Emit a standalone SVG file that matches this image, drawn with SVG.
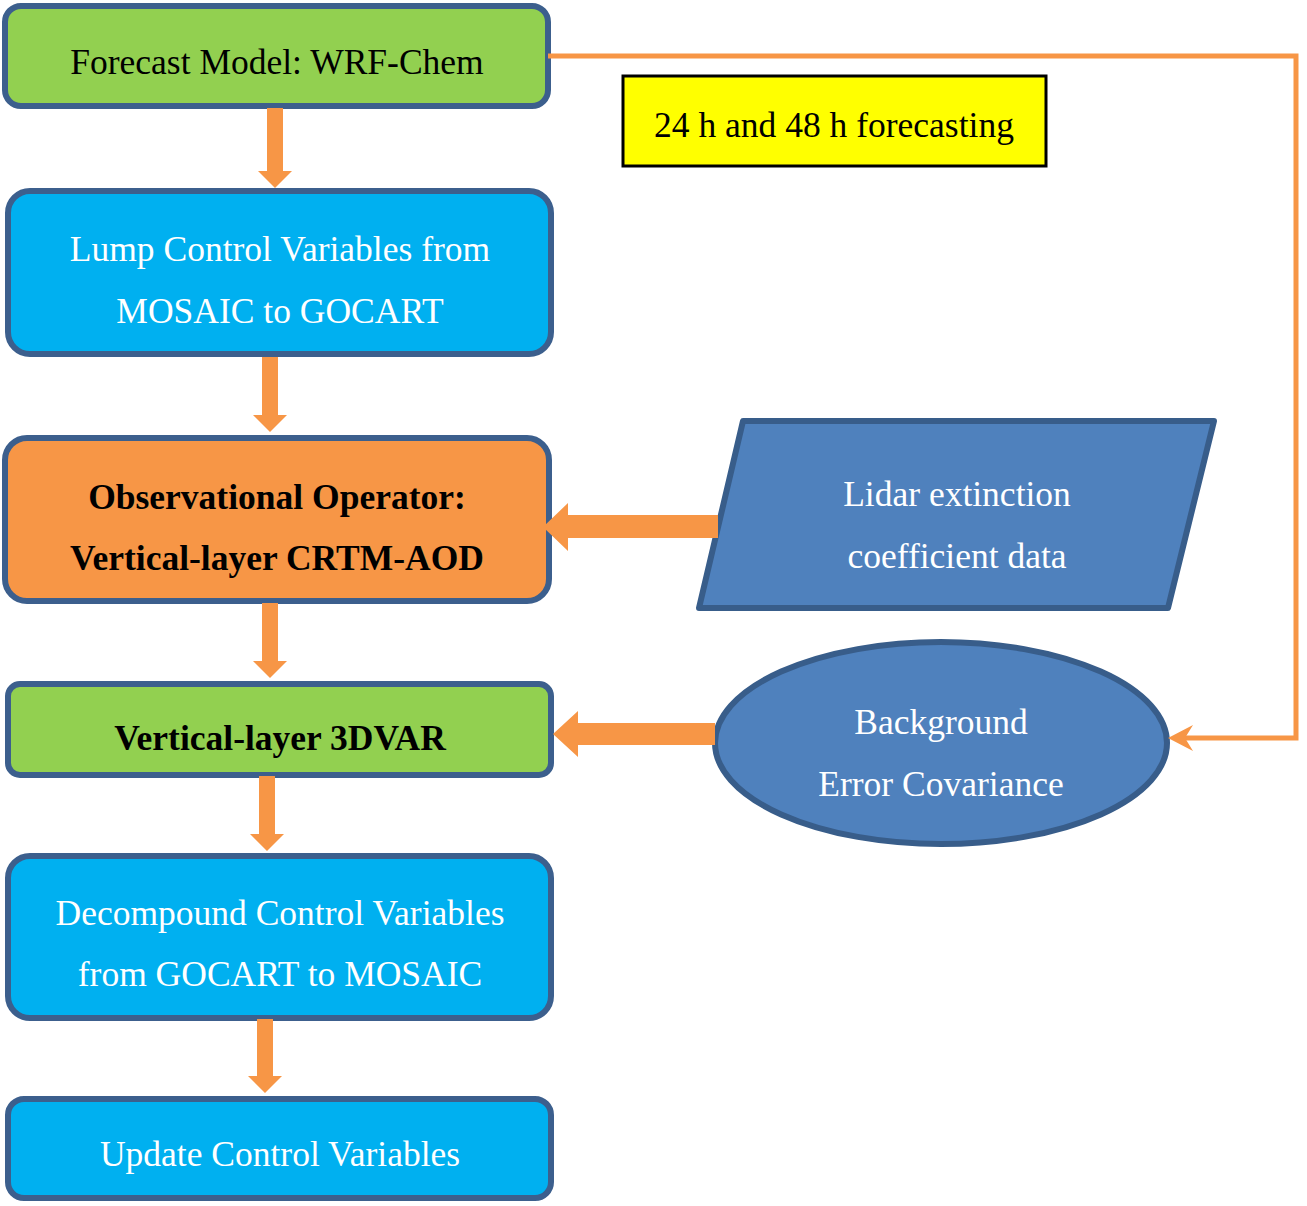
<svg xmlns="http://www.w3.org/2000/svg" width="1307" height="1206" viewBox="0 0 1307 1206">
<style>
.box{stroke:#3c5f8d;stroke-width:6}
.g{fill:#92d050}
.b{fill:#00b0f0}
.o{fill:#f79646}
.sb{fill:#4f81bd;stroke:#385d8a;stroke-width:6}
text{font-family:"Liberation Serif","Times New Roman",serif;font-size:35.5px;text-anchor:middle}
.w{fill:#ffffff}
.k{fill:#000000}
.bd{font-weight:bold}
.arr{fill:#f79646}
.ln{fill:none;stroke:#f79646;stroke-width:5}
</style>
<rect width="1307" height="1206" fill="#ffffff"/>
<g id="forecast"><rect class="box g" x="5" y="6" width="543" height="100" rx="16"/><text class="k" x="277" y="74">Forecast Model: WRF-Chem</text></g>
<g id="lump"><rect class="box b" x="8" y="191" width="543" height="163" rx="22"/><text class="w" x="280" y="261">Lump Control Variables from</text><text class="w" x="280" y="323">MOSAIC to GOCART</text></g>
<g id="obsop"><rect class="box o" x="5" y="438" width="544" height="163" rx="22"/><text class="k bd" x="277" y="509">Observational Operator:</text><text class="k bd" x="277" y="570">Vertical-layer CRTM-AOD</text></g>
<g id="var3d"><rect class="box g" x="8" y="684" width="543" height="91" rx="12"/><text class="k bd" x="280" y="750">Vertical-layer 3DVAR</text></g>
<g id="decompound"><rect class="box b" x="8" y="856" width="543" height="162" rx="22"/><text class="w" x="280" y="925">Decompound Control Variables</text><text class="w" x="280" y="986">from GOCART to MOSAIC</text></g>
<g id="update"><rect class="box b" x="8" y="1099" width="543" height="99" rx="16"/><text class="w" x="280" y="1166">Update Control Variables</text></g>
<g id="forecasting"><rect x="623" y="76" width="423" height="90" fill="#ffff00" stroke="#000000" stroke-width="3"/><text class="k" x="834" y="137">24 h and 48 h forecasting</text></g>
<g id="lidar"><polygon class="sb" points="743,421 1214,421 1168,608 699,608" stroke-linejoin="round"/><text class="w" x="957" y="506">Lidar extinction</text><text class="w" x="957" y="568">coefficient data</text></g>
<g id="bec"><ellipse class="sb" cx="941" cy="743" rx="226" ry="101"/><text class="w" x="941" y="734">Background</text><text class="w" x="941" y="796">Error Covariance</text></g>
<g id="connectors">
<polygon class="arr" points="267,108 283,108 283,171 292,171 275,188 258,171 267,171"/>
<polygon class="arr" points="262,357 278,357 278,415 287,415 270,432 253,415 262,415"/>
<polygon class="arr" points="262,603 278,603 278,661 287,661 270,678 253,661 262,661"/>
<polygon class="arr" points="259,776 275,776 275,834 284,834 267,851 250,834 259,834"/>
<polygon class="arr" points="257,1019 273,1019 273,1076 282,1076 265,1093 248,1076 257,1076"/>
<polygon class="arr" points="718,515 718,538 568,538 568,551 543,527 568,503 568,515"/>
<polygon class="arr" points="715,723 715,745 578,745 578,757 553,734 578,711 578,723"/>
<polyline class="ln" points="548,56 1296,56 1296,738 1175,738"/>
<polygon class="arr" points="1168,738 1193,725 1185,738 1193,751"/>
</g>
</svg>
